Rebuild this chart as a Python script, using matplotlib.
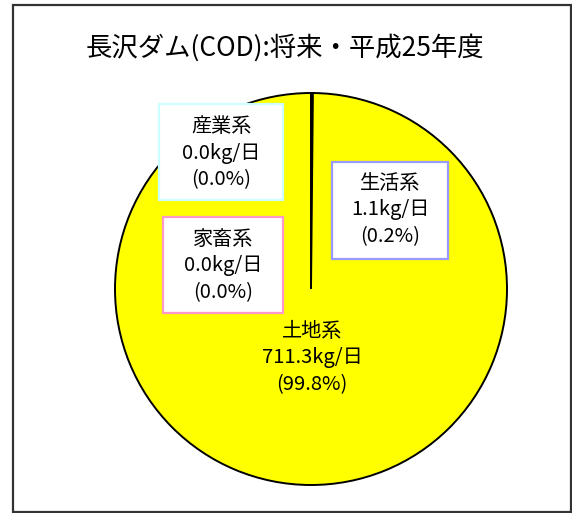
import matplotlib.pyplot as plt
from matplotlib.patches import Rectangle

plt.rcParams['font.family'] = ['Noto Sans CJK JP', 'DejaVu Sans']

# Data
categories = ['生活系', '産業系', '家畜系', '土地系']
loads = [1.1, 0.0, 0.0, 711.3]          # kg/日
shares = [0.2, 0.0, 0.0, 99.8]          # %
colors = ['#9999FF', '#CCFFFF', '#FF99CC', '#FFFF00']
title = '長沢ダム(COD):将来・平成25年度'

W, H = 572, 513
fig = plt.figure(figsize=(W / 100, H / 100), dpi=100)
ax = fig.add_axes([0, 0, 1, 1])

# outer frame
ax.add_patch(Rectangle((12.5, H - 512), 558.5, 507.5, fill=False,
                       edgecolor='#333333', lw=1.6))

ax.text(285, H - 48, title, ha='center', va='center', fontsize=19)

ax.pie(loads, colors=colors, startangle=90, counterclock=False,
       center=(311, H - 289), radius=196, frame=True,
       wedgeprops=dict(edgecolor='black', linewidth=1.4))
ax.set_xlim(0, W)
ax.set_ylim(0, H)
ax.set_aspect('equal')
ax.axis('off')

# label boxes: (x0, y0, x1, y1) in pixels from top-left, edge colour
boxes = {
    '生活系': (332, 162, 448, 259, '#9999FF'),
    '産業系': (159, 104, 283, 200, '#CCFFFF'),
    '家畜系': (163, 217, 283, 313, '#FF99CC'),
    '土地系': (None, None, None, None, None),
}
centers = {'生活系': (390, 210), '産業系': (221, 153),
           '家畜系': (223, 266), '土地系': (312, 358)}

for name, load, share in zip(categories, loads, shares):
    x0, y0, x1, y1, ec = boxes[name]
    if x0 is not None:
        ax.add_patch(Rectangle((x0, H - y1), x1 - x0, y1 - y0,
                               facecolor='white', edgecolor=ec, lw=1.6, zorder=3))
    cx, cy = centers[name]
    lines = [name, f'{load:.1f}kg/日', f'({share:.1f}%)']
    for i, s in enumerate(lines):
        ax.text(cx, H - (cy + (i - 1) * 26.5), s, ha='center', va='center',
                fontsize=14.5, zorder=4)

fig.savefig('out.png', dpi=100)
